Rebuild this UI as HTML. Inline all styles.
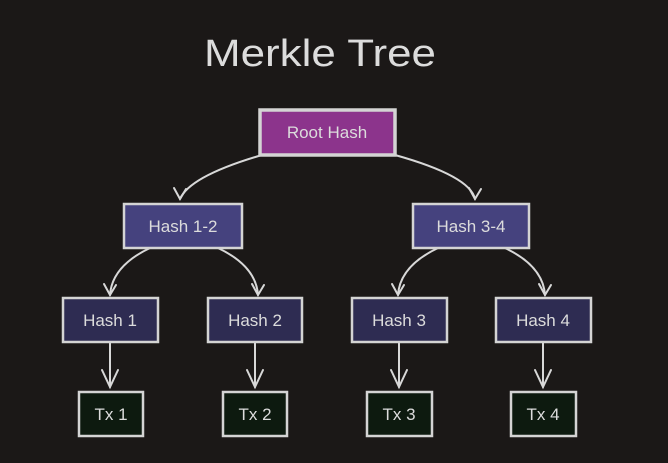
<!DOCTYPE html>
<html><head><style>
html,body{margin:0;padding:0;background:#1b1817;}
svg{display:block}
text{font-family:"Liberation Sans",sans-serif;fill:#dcdcdc}
</style></head><body>
<svg width="668" height="463" viewBox="0 0 668 463" xmlns="http://www.w3.org/2000/svg">
<rect width="668" height="463" fill="#1b1817"/>
<text x="320" y="66" font-size="38" text-anchor="middle" textLength="232" lengthAdjust="spacingAndGlyphs" fill="#e0e0e0">Merkle Tree</text>
<g fill="none" stroke="#d8d8d8" stroke-width="2" stroke-linecap="round">
<path d="M262 155 Q190 176 180 199"/><path d="M174 188 L180 199 L186 189"/>
<path d="M395 155 Q470 176 475 199"/><path d="M469 188 L475 199 L481 189"/>
<path d="M150 248 Q112 266 110 295"/><path d="M104 284 L110 295 L116 285"/>
<path d="M218 248 Q256 266 258 295"/><path d="M252 284 L258 295 L264 285"/>
<path d="M438 248 Q400 266 398 295"/><path d="M392 284 L398 295 L404 285"/>
<path d="M505 248 Q543 266 545 295"/><path d="M539 284 L545 295 L551 285"/>
<path d="M110 343 L110 387"/><path d="M102 370 L110 387 L118 370"/>
<path d="M255 343 L255 387"/><path d="M247 370 L255 387 L263 370"/>
<path d="M399 343 L399 387"/><path d="M391 370 L399 387 L407 370"/>
<path d="M543 343 L543 387"/><path d="M535 370 L543 387 L551 370"/>
</g>
<g stroke="#d4d4d4" stroke-width="2.5">
<rect x="260" y="110" width="135" height="45" fill="#8c348c" stroke-width="3.5"/>
<rect x="124" y="204" width="118" height="44" fill="#45427e"/>
<rect x="413" y="204" width="116" height="44" fill="#45427e"/>
<rect x="63" y="298" width="95" height="44" fill="#2e2c52"/>
<rect x="208" y="298" width="94" height="44" fill="#2e2c52"/>
<rect x="352" y="298" width="95" height="44" fill="#2e2c52"/>
<rect x="496" y="298" width="95" height="44" fill="#2e2c52"/>
<rect x="79" y="392" width="64" height="44" fill="#0d1a0f"/>
<rect x="223" y="392" width="64" height="44" fill="#0d1a0f"/>
<rect x="367" y="392" width="65" height="44" fill="#0d1a0f"/>
<rect x="511" y="392" width="65" height="44" fill="#0d1a0f"/>
</g>
<g font-size="17" text-anchor="middle">
<text x="327" y="138">Root Hash</text>
<text x="183" y="232">Hash 1-2</text>
<text x="471" y="232">Hash 3-4</text>
<text x="110" y="326">Hash 1</text>
<text x="255" y="326">Hash 2</text>
<text x="399" y="326">Hash 3</text>
<text x="543" y="326">Hash 4</text>
<text x="111" y="420">Tx 1</text>
<text x="255" y="420">Tx 2</text>
<text x="399" y="420">Tx 3</text>
<text x="543" y="420">Tx 4</text>
</g>
</svg>
</body></html>
